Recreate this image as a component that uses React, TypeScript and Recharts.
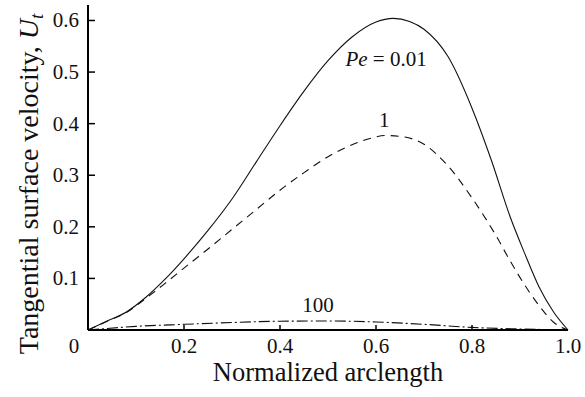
import React from "react";
import { LineChart, Line, XAxis, YAxis, ReferenceDot } from "recharts";

// Pe = 0.01 (solid)
const arcPe001 = [0, 0.04, 0.08, 0.12, 0.16, 0.2, 0.25, 0.3, 0.35, 0.4, 0.45, 0.5, 0.55, 0.6, 0.636, 0.67, 0.7, 0.75, 0.8, 0.84, 0.88, 0.91, 0.94, 0.97, 1.0];
const velPe001 = [0, 0.0175, 0.035, 0.063, 0.098, 0.138, 0.193, 0.254, 0.325, 0.396, 0.463, 0.522, 0.568, 0.597, 0.604, 0.598, 0.583, 0.53, 0.43, 0.33, 0.218, 0.148, 0.083, 0.035, 0];

// Pe = 1 (dashed)
const arcPe1 = [0, 0.04, 0.08, 0.12, 0.16, 0.2, 0.25, 0.3, 0.35, 0.4, 0.45, 0.5, 0.55, 0.59, 0.62, 0.66, 0.7, 0.75, 0.8, 0.85, 0.88, 0.91, 0.94, 0.97, 1.0];
const velPe1 = [0, 0.017, 0.034, 0.061, 0.09, 0.12, 0.157, 0.195, 0.233, 0.271, 0.305, 0.336, 0.359, 0.372, 0.377, 0.374, 0.36, 0.318, 0.256, 0.183, 0.133, 0.087, 0.047, 0.015, 0];

// Pe = 100 (dash-dot)
const arcPe100 = [0, 0.04, 0.1, 0.2, 0.3, 0.4, 0.5, 0.6, 0.7, 0.8, 0.9, 1.0];
const velPe100 = [0, 0.003, 0.007, 0.011, 0.0145, 0.017, 0.0175, 0.0155, 0.011, 0.005, 0.002, 0];

const xTicks = [0, 0.2, 0.4, 0.6, 0.8, 1.0];
const xTickLabels = ["0", "0.2", "0.4", "0.6", "0.8", "1.0"];
const yTicks = [0.1, 0.2, 0.3, 0.4, 0.5, 0.6];

const FONT = '"Liberation Serif", "Times New Roman", serif';

const toPoints = (s: number[], u: number[]) => s.map((x, i) => ({ s: x, u: u[i] }));

const XTick = (props: any) => {
  const { x, y, payload, index } = props;
  const label = xTickLabels[index] ?? String(payload.value);
  return (
    <g>
      {payload.value > 0 && payload.value < 1 && (
        <line x1={x} x2={x} y1={y} y2={y - 5} stroke="#000" strokeWidth={1.5} />
      )}
      <text
        x={payload.value === 0 ? x - 14 : x}
        y={y + 23}
        textAnchor="middle"
        fontFamily={FONT}
        fontSize={21}
        fill="#111"
      >
        {label}
      </text>
    </g>
  );
};

const YTick = (props: any) => {
  const { x, y, payload } = props;
  return (
    <g>
      <line x1={x} x2={x + 7} y1={y} y2={y} stroke="#000" strokeWidth={1.5} />
      <text
        x={x - 9}
        y={y + 7}
        textAnchor="end"
        fontFamily={FONT}
        fontSize={21}
        fill="#111"
      >
        {payload.value.toFixed(1)}
      </text>
    </g>
  );
};

const CurveLabel = (text: React.ReactNode) => (props: any) => {
  const { viewBox } = props;
  const cx = viewBox.x + viewBox.width / 2;
  const cy = viewBox.y + viewBox.height / 2;
  return (
    <text x={cx} y={cy} textAnchor="middle" fontFamily={FONT} fontSize={21} fill="#111">
      {text}
    </text>
  );
};

export default function App() {
  return (
    <div style={{ position: "absolute", left: 0, top: 0 }}>
      <LineChart width={585} height={397} margin={{ top: 5, right: 17, bottom: 0, left: 0 }}>
        <XAxis
          type="number"
          dataKey="s"
          domain={[0, 1]}
          ticks={xTicks}
          interval={0}
          height={67}
          tickSize={0}
          tickMargin={0}
          tick={<XTick />}
          axisLine={{ stroke: "#000", strokeWidth: 2 }}
          tickLine={false}
          label={{
            content: (p: any) => (
              <text
                x={p.viewBox.x + p.viewBox.width / 2}
                y={p.viewBox.y + 51}
                textAnchor="middle"
                fontFamily={FONT}
                fontSize={26.5}
                fill="#111"
              >
                Normalized arclength
              </text>
            ),
          }}
        />
        <YAxis
          type="number"
          dataKey="u"
          domain={[0, 0.63]}
          ticks={yTicks}
          interval={0}
          width={88}
          tickSize={0}
          tickMargin={0}
          tick={<YTick />}
          axisLine={{ stroke: "#000", strokeWidth: 2 }}
          tickLine={false}
          label={{
            content: () => (
              <text
                transform="translate(38,184) rotate(-90)"
                textAnchor="middle"
                fontFamily={FONT}
                fontSize={28}
                fill="#111"
              >
                Tangential surface velocity,{" "}
                <tspan fontStyle="italic">U</tspan>
                <tspan fontStyle="italic" fontSize={19} dy={5}>t</tspan>
              </text>
            ),
          }}
        />
        <Line
          data={toPoints(arcPe001, velPe001)}
          dataKey="u"
          type="monotone"
          stroke="#111"
          strokeWidth={1.1}
          dot={false}
          isAnimationActive={false}
        />
        <Line
          data={toPoints(arcPe1, velPe1)}
          dataKey="u"
          type="monotone"
          stroke="#111"
          strokeWidth={1.1}
          strokeDasharray="8 6"
          dot={false}
          isAnimationActive={false}
        />
        <Line
          data={toPoints(arcPe100, velPe100)}
          dataKey="u"
          type="monotone"
          stroke="#111"
          strokeWidth={1.1}
          strokeDasharray="11 3 2 3"
          dot={false}
          isAnimationActive={false}
        />
        <ReferenceDot
          x={0.621}
          y={0.511}
          r={1}
          fill="none"
          stroke="none"
          label={{
            content: CurveLabel(
              <>
                <tspan fontStyle="italic">Pe</tspan> = 0.01
              </>
            ),
          }}
        />
        <ReferenceDot x={0.617} y={0.393} r={1} fill="none" stroke="none" label={{ content: CurveLabel("1") }} />
        <ReferenceDot x={0.479} y={0.035} r={1} fill="none" stroke="none" label={{ content: CurveLabel("100") }} />
      </LineChart>
    </div>
  );
}
